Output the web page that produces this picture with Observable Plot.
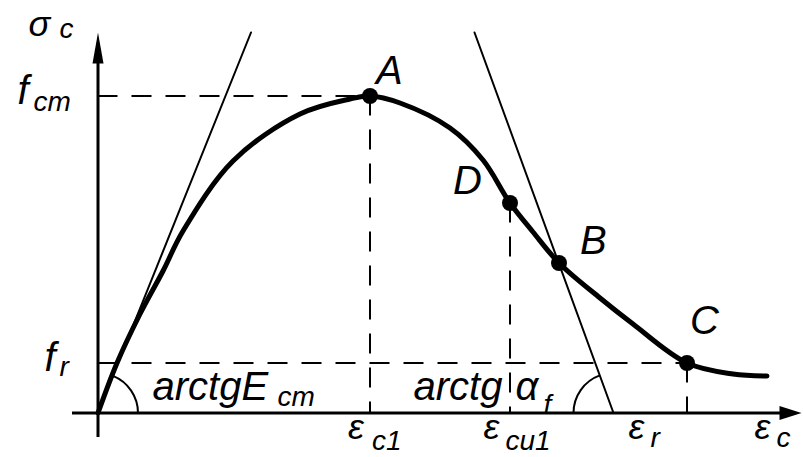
<!DOCTYPE html>
<html>
<head>
<meta charset="utf-8">
<script src="https://cdn.jsdelivr.net/npm/d3@7"></script>
<script src="https://cdn.jsdelivr.net/npm/@observablehq/plot@0.6"></script>
<style>
  html, body { margin: 0; padding: 0; background: #fff; }
  #chart svg { display: block; }
</style>
</head>
<body>
<div id="chart"></div>
<script>
// Concrete stress–strain relation σc(εc), schematic units.
const curveStrain = [0, 0.19, 0.42, 0.65, 0.85, 1.35, 2.02, 2.52, 2.72, 3.02, 3.52, 3.85, 4.12, 4.35, 4.61, 5.02, 5.35, 5.89, 6.35, 6.69];
const curveStress = [0, 0.50, 0.99, 1.42, 1.82, 2.52, 2.99, 3.14, 3.17, 3.10, 2.85, 2.53, 2.10, 1.81, 1.50, 1.15, 0.89, 0.50, 0.39, 0.37];

// Characteristic points of the curve
const pointNames  = ["A", "D", "B", "C"];
const pointStrain = [2.72, 4.12, 4.61, 5.89];
const pointStress = [3.17, 2.10, 1.50, 0.50];

const fcm = 3.17, fr = 0.50;
const epsC1 = 2.72, epsCu1 = 4.12, epsCr = 5.89, stressD = 2.10;

// Initial tangent (modulus Ecm) and softening line (slope αf)
const tangentStrain   = [0, 1.53];
const tangentStress   = [0, 3.805];
const softeningStrain = [3.765, 5.155];
const softeningStress = [3.805, 0];

// Axis extents
const axisStrain = [-0.255, 6.9];
const axisStress = [-0.245, 3.5];
const arrowTipStrain = 7.035;
const arrowTipStress = 3.805;

const curve = curveStrain.map((x, i) => ({x, y: curveStress[i]}));
const points = pointNames.map((name, i) => ({name, x: pointStrain[i], y: pointStress[i]}));
const tangent = tangentStrain.map((x, i) => ({x, y: tangentStress[i]}));
const softening = softeningStrain.map((x, i) => ({x, y: softeningStress[i]}));

// Filled arrowheads drawn as custom symbols, tip at the anchor point
const arrowUp = {draw(ctx) { ctx.moveTo(0, 0); ctx.lineTo(-5.5, 31); ctx.lineTo(5.5, 31); ctx.closePath(); }};
const arrowRight = {draw(ctx) { ctx.moveTo(0, 0); ctx.lineTo(-22, -7); ctx.lineTo(-22, 7); ctx.closePath(); }};

// Angle arcs (both scales use the same pixels per unit, so data slopes give screen angles)
const R = 40;
const aE = Math.atan2(-(tangentStress[1] - tangentStress[0]), tangentStrain[1] - tangentStrain[0]);
const aF = Math.atan2(-(softeningStress[0] - softeningStress[1]), softeningStrain[0] - softeningStrain[1]);
const arcE = {draw(ctx) { ctx.moveTo(R * Math.cos(aE), R * Math.sin(aE)); ctx.arc(0, 0, R, aE, 0); }};
const arcF = {draw(ctx) { ctx.moveTo(-R, 0); ctx.arc(0, 0, R, Math.PI, aF + 2 * Math.PI); }};

const FONT = "'Liberation Sans', Arial, sans-serif";
function label(text, x, y, dx, dy, size) {
  return Plot.text([text], {
    x, y, text: d => d, dx, dy,
    textAnchor: "start", lineAnchor: "bottom",
    fontSize: size, fontStyle: "italic", fontFamily: FONT, fill: "black"
  });
}
const MAIN = 40, SUB = 28, EPS = 36;

const dash = {stroke: "black", strokeWidth: 2, strokeDasharray: "20,14"};

const chart = Plot.plot({
  width: 803,
  height: 457,
  margin: 0,
  x: {domain: [0, 7], range: [97.5, 797.5], axis: null},
  y: {domain: [0, 4], range: [412.5, 12.5], axis: null},
  style: {background: "white", overflow: "visible"},
  marks: [
    // reference lines
    Plot.ruleY([fcm], {x1: 0, x2: epsC1, ...dash}),
    Plot.ruleX([epsC1], {y1: fcm, y2: 0, ...dash}),
    Plot.ruleX([epsCu1], {y1: stressD, y2: 0, ...dash}),
    Plot.ruleY([fr], {x1: 0, x2: epsCr, ...dash}),
    Plot.ruleX([epsCr], {y1: fr, y2: 0, ...dash}),

    // tangent and softening lines
    Plot.line(tangent, {x: "x", y: "y", stroke: "black", strokeWidth: 2}),
    Plot.line(softening, {x: "x", y: "y", stroke: "black", strokeWidth: 2}),

    // angle arcs
    Plot.dot([0], {x: tangentStrain[0], y: tangentStress[0], symbol: arcE, fill: "none", stroke: "black", strokeWidth: 2}),
    Plot.dot([0], {x: softeningStrain[1], y: softeningStress[1], symbol: arcF, fill: "none", stroke: "black", strokeWidth: 2}),

    // axes
    Plot.ruleY([0], {x1: axisStrain[0], x2: axisStrain[1], stroke: "black", strokeWidth: 3}),
    Plot.ruleX([0], {y1: axisStress[0], y2: axisStress[1], stroke: "black", strokeWidth: 3}),
    Plot.dot([0], {x: 0, y: arrowTipStress, symbol: arrowUp, fill: "black", stroke: "none"}),
    Plot.dot([0], {x: arrowTipStrain, y: 0, symbol: arrowRight, fill: "black", stroke: "none"}),

    // stress–strain curve and its points
    Plot.line(curve, {x: "x", y: "y", curve: "catmull-rom", stroke: "black", strokeWidth: 5, strokeLinejoin: "round"}),
    Plot.dot(points, {x: "x", y: "y", r: 8, fill: "black", stroke: "none"}),

    // point names
    label("A", pointStrain[0], pointStress[0], 6, -12, MAIN),
    label("D", pointStrain[1], pointStress[1], -57, -9, MAIN),
    label("B", pointStrain[2], pointStress[2], 21, -9, MAIN),
    label("C", pointStrain[3], pointStress[3], 3, -29, MAIN),

    // axis titles
    label("σ", 0, arrowTipStress, -69.5, 3, EPS),
    label("c", 0, arrowTipStress, -38.5, 5, SUB),
    label("ε", arrowTipStrain, 0, -47, 25.5, EPS),
    label("c", arrowTipStrain, 0, -25, 34, SUB),

    // stress levels
    label("f", 0, fcm, -80.5, 8, MAIN),
    label("cm", 0, fcm, -64.5, 15, SUB),
    label("f", 0, fr, -53.5, 7.5, MAIN),
    label("r", 0, fr, -38.5, 12.5, SUB),

    // strain levels
    label("ε", epsC1, 0, -22, 25.5, EPS),
    label("c1", epsC1, 0, 2, 37, SUB),
    label("ε", epsCu1, 0, -26.5, 25.5, EPS),
    label("cu1", epsCu1, 0, -4.5, 37, SUB),
    label("ε", softeningStrain[1], 0, 15, 25.5, EPS),
    label("r", softeningStrain[1], 0, 37, 34, SUB),

    // angle annotations
    label("arctgE", 0, 0, 54.5, -13.5, MAIN),
    label("cm", 0, 0, 179.5, -7.5, SUB),
    label("arctg", softeningStrain[1], 0, -200, -13.5, MAIN),
    label("α", softeningStrain[1], 0, -98, -13.5, MAIN),
    label("f", softeningStrain[1], 0, -70, 0.5, SUB)
  ]
});

document.getElementById("chart").appendChild(chart);
</script>
</body>
</html>
